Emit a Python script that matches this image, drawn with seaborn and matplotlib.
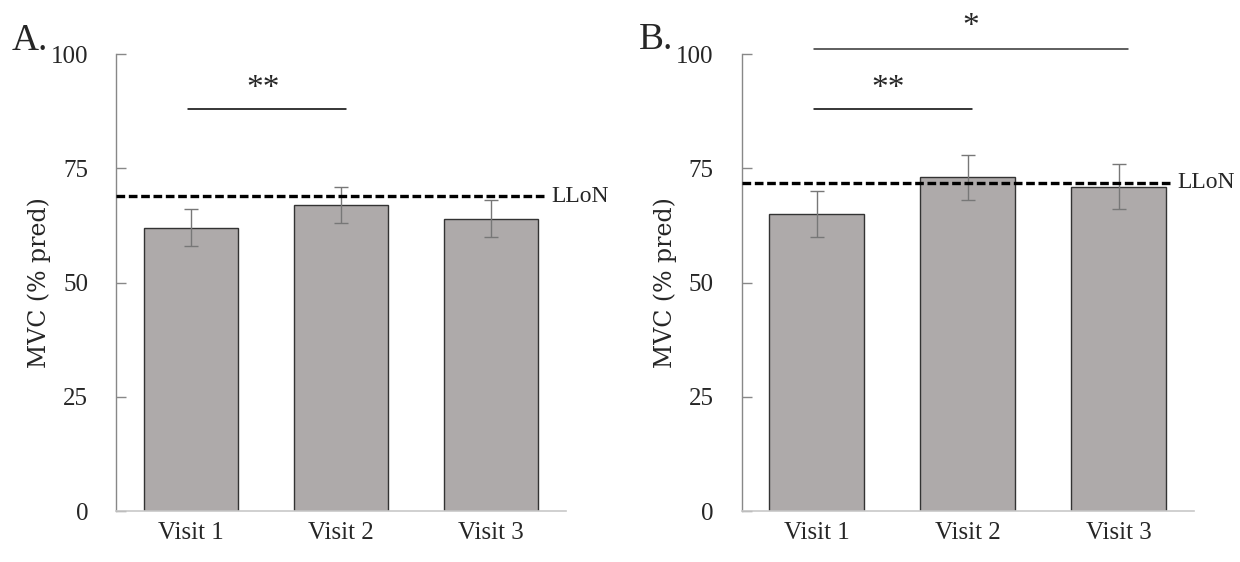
import matplotlib
matplotlib.use("Agg")
import matplotlib.pyplot as plt
import seaborn as sns
import pandas as pd

# ---- data ----
visits = ["Visit 1", "Visit 2", "Visit 3"]
a_mean = [62, 67, 64]
a_err = [4, 4, 4]
a_llon = 68.9
b_mean = [65, 73, 71]
b_err = [5, 5, 5]
b_llon = 71.8
yticks = [0, 25, 50, 75, 100]

sns.set_theme(style="white")
plt.rcParams["font.family"] = ["Liberation Serif", "DejaVu Serif"]

fig = plt.figure(figsize=(12.4, 5.62), dpi=100)
axA = fig.add_axes([0.0935, 0.0907, 0.363, 0.813])
axB = fig.add_axes([0.598, 0.0907, 0.365, 0.813])

BAR = "#AEAAAA"
TICK_FS = 18


def panel(ax, means, errs, llon, letter, letter_xy, label_x):
    df = pd.DataFrame({"visit": visits, "mvc": means})
    sns.barplot(data=df, x="visit", y="mvc", ax=ax, color=BAR, width=0.63,
                errorbar=None, edgecolor="#333333", linewidth=1.0, saturation=1)
    ax.errorbar(range(len(visits)), means, yerr=errs, fmt="none",
                ecolor="#777777", elinewidth=1.0, capsize=5, capthick=1.0, zorder=5)
    ax.set_xlim(-0.5, 2.5)
    ax.set_ylim(0, 100)
    ax.set_yticks(yticks)
    ax.set_yticklabels([str(t) for t in yticks], fontsize=TICK_FS)
    ax.set_xticklabels(visits, fontsize=TICK_FS)
    ax.set_xlabel("")
    ax.set_ylabel("MVC (% pred)", fontsize=17, family=["DejaVu Serif"])
    ax.yaxis.set_label_coords(label_x, 0.5)
    for s in ["top", "right"]:
        ax.spines[s].set_visible(False)
    ax.spines["left"].set_color("#888888")
    ax.spines["bottom"].set_color("#C8C8C8")
    ax.spines["left"].set_linewidth(1.0)
    ax.spines["bottom"].set_linewidth(1.2)
    ax.tick_params(axis="y", direction="in", length=7, width=1, color="#888888",
                   left=True, pad=20)
    ax.tick_params(axis="x", length=0, pad=8)
    fig.text(letter_xy[0], letter_xy[1], letter, fontsize=27, ha="left", va="center")
    return ax


panel(axA, a_mean, a_err, a_llon, "A.", (0.009, 0.927), -0.145)
panel(axB, b_mean, b_err, b_llon, "B.", (0.515, 0.930), -0.142)

# LLoN reference lines
axA.plot([-0.5, 2.37], [a_llon, a_llon], color="black", lw=2.4, ls=(0, (2.6, 1.1)),
         zorder=6, clip_on=False)
axA.text(2.40, a_llon, "LLoN", fontsize=17, va="center", ha="left")
axB.plot([-0.5, 2.35], [b_llon, b_llon], color="black", lw=2.4, ls=(0, (2.6, 1.1)),
         zorder=6, clip_on=False)
axB.text(2.39, b_llon, "LLoN", fontsize=17, va="center", ha="left")

# significance brackets
axA.plot([-0.02, 1.03], [88, 88], color="black", lw=1.1, clip_on=False)
axA.text(0.48, 92.5, "**", fontsize=24, ha="center", va="center")
axB.plot([-0.02, 1.03], [88, 88], color="black", lw=1.1, clip_on=False)
axB.text(0.47, 92.5, "**", fontsize=24, ha="center", va="center")
axB.plot([-0.02, 2.06], [101.2, 101.2], color="#333333", lw=1.1, clip_on=False)
axB.text(1.02, 106, "*", fontsize=24, ha="center", va="center")

fig.savefig("out.png", dpi=100)
